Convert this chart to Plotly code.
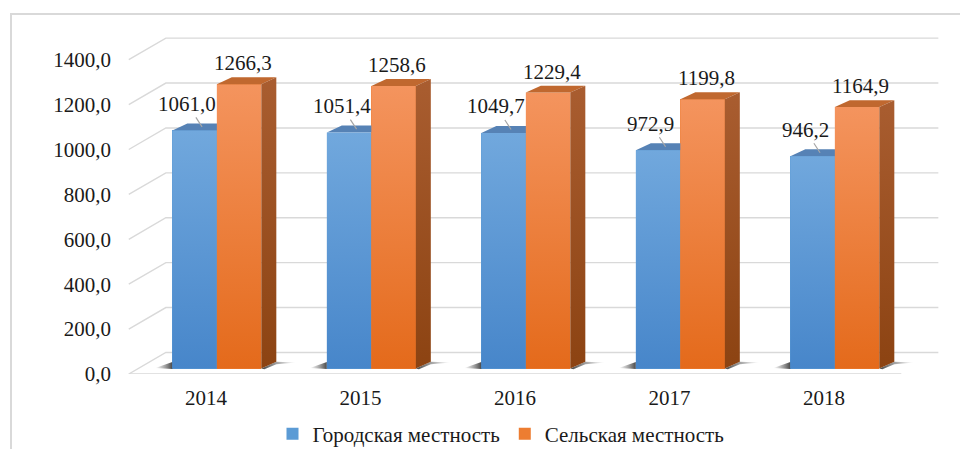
import plotly.graph_objects as go

# ---------------- data ----------------
years = ["2014", "2015", "2016", "2017", "2018"]
urban = [1061.0, 1051.4, 1049.7, 972.9, 946.2]
rural = [1266.3, 1258.6, 1229.4, 1199.8, 1164.9]
y_ticks = [0, 200, 400, 600, 800, 1000, 1200, 1400]
y_tick_text = ["0,0", "200,0", "400,0", "600,0", "800,0", "1000,0", "1200,0", "1400,0"]
series_names = ["Городская местность", "Сельская местность"]


def fmt(v):
    return f"{v:.1f}".replace(".", ",")


# ---------------- geometry / style ----------------
OFF = 8                                    # default page body margin
W, H = 968 - OFF, 449 - OFF               # figure size
# plot area given in screen px, converted to figure px
PL, PR, PT, PB = 128 - OFF, 950 - OFF, 28 - OFF, 374 - OFF
PX_PER_CAT = 154.5
X0 = -0.505
X1 = X0 + (PR - PL) / PX_PER_CAT
PX_PER_VAL = 0.2245
Y1 = (PB - PT) / PX_PER_VAL
DX, DY = 0.24, 96          # full floor depth offset (x units, value units)
FB = 0.25                  # depth fraction of bar front plane
BASE = FB * DY
SHIFT = 0.07
BW = 0.288
BDX, BDY = 0.097, 31       # bar depth
FONT = '"Liberation Serif", "Times New Roman", serif'
FS = 21
TXT = "#1a1a1a"
GRID = "#D9D9D9"

BLUE = "#5B9BD5"
ORANGE = "#ED7D31"


def px2paper_x(px):
    return (px - OFF - PL) / (PR - PL)


def px2paper_y(py):
    return (PB - (py - OFF)) / (PB - PT)


n = len(years)
fig = go.Figure()

# base bars (front faces, legend)
fig.add_trace(go.Bar(
    x=[i + SHIFT - BW / 2 for i in range(n)], y=urban, base=[BASE] * n, width=BW,
    name=series_names[0], marker=dict(color=BLUE, line=dict(width=0)),
    hoverinfo="skip"))
fig.add_trace(go.Bar(
    x=[i + SHIFT + BW / 2 for i in range(n)], y=rural, base=[BASE] * n, width=BW,
    name=series_names[1], marker=dict(color=ORANGE, line=dict(width=0)),
    hoverinfo="skip"))


def poly(xs, ys, **kw):
    fig.add_trace(go.Scatter(
        x=xs + [xs[0]], y=ys + [ys[0]], mode="lines", fill="toself",
        line=dict(width=0, color="rgba(0,0,0,0)"), showlegend=False,
        hoverinfo="skip", **kw))


for i in range(n):
    c = i + SHIFT
    xl, xr = c - BW, c + BW
    vb, vo = urban[i], rural[i]
    # shadows on the floor
    poly([xl, xl, xl - 0.11], [BASE + 30, BASE - 2, BASE + 3],
         fillgradient=dict(type="horizontal",
                           colorscale=[[0, "rgba(90,90,90,0)"], [1, "rgba(40,40,40,0.85)"]]))
    poly([xr, xr + BDX, xr + BDX + 0.13, xr + BDX, xr + 0.02],
         [BASE, BASE + BDY, BASE + BDY - 4, BASE + BDY - 12, BASE - 3],
         fillgradient=dict(type="horizontal",
                           colorscale=[[0, "rgba(35,35,35,0.85)"], [1, "rgba(90,90,90,0)"]]))
    # blue top face
    poly([xl, c, c + BDX, xl + BDX],
         [BASE + vb, BASE + vb, BASE + vb + BDY, BASE + vb + BDY],
         fillcolor="#5682B5")
    # blue front face gradient
    poly([xl, c, c, xl], [BASE, BASE, BASE + vb, BASE + vb],
         fillgradient=dict(type="vertical", colorscale=[[0, "#4786CA"], [1, "#71A8DD"]]))
    # orange front face gradient
    poly([c, xr, xr, c], [BASE, BASE, BASE + vo, BASE + vo],
         fillgradient=dict(type="vertical", colorscale=[[0, "#E46A1B"], [1, "#F4945E"]]))
    # orange top face
    poly([c, xr, xr + BDX, c + BDX],
         [BASE + vo, BASE + vo, BASE + vo + BDY, BASE + vo + BDY],
         fillcolor="#C0682F")
    # orange side face
    poly([xr, xr + BDX, xr + BDX, xr],
         [BASE, BASE + BDY, BASE + vo + BDY, BASE + vo],
         fillgradient=dict(type="vertical", colorscale=[[0, "#8C4312"], [1, "#A95D30"]]))

# gridlines (left wall diagonal + back wall) and floor front edge, as shapes below traces
fl, fr = -0.5, n - 0.5
shapes = []
for t in y_ticks:
    shapes.append(dict(type="path", xref="x", yref="y", layer="below",
                       path=f"M {fl},{t} L {fl + DX},{t + DY} L {fr + DX},{t + DY}",
                       line=dict(color=GRID, width=1.4)))
shapes.append(dict(type="line", xref="x", yref="y", layer="below",
                   x0=fl, y0=0, x1=fr, y1=0, line=dict(color=GRID, width=1.4)))
# outer chart border
shapes.append(dict(type="rect", xref="paper", yref="paper", layer="below",
                   x0=px2paper_x(11), y0=px2paper_y(470), x1=px2paper_x(990), y1=px2paper_y(14),
                   line=dict(color=GRID, width=2)))

# data labels
ann = []
for i in range(n):
    c = i + SHIFT
    ann.append(dict(x=c + BW / 2 + BDX / 4, y=BASE + rural[i] + BDY, xref="x", yref="y",
                    text=fmt(rural[i]), showarrow=False, yanchor="bottom", yshift=0,
                    font=dict(family=FONT, size=FS, color=TXT)))
    ann.append(dict(x=c - BW / 2 + BDX / 2, y=BASE + urban[i] + BDY / 2, xref="x", yref="y",
                    text=fmt(urban[i]), showarrow=True, arrowhead=0, arrowwidth=1.2,
                    arrowcolor="#A6A6A6", ax=-15, ay=-23,
                    font=dict(family=FONT, size=FS, color=TXT)))

fig.update_layout(
    width=W, height=H,
    margin=dict(l=PL, r=W - PR, t=PT, b=H - PB, pad=0, autoexpand=False),
    paper_bgcolor="white", plot_bgcolor="rgba(0,0,0,0)",
    barmode="overlay", bargap=0,
    font=dict(family=FONT, size=FS, color=TXT),
    showlegend=True,
    legend=dict(orientation="h", x=px2paper_x(501), xanchor="center", y=px2paper_y(434),
                yanchor="middle", font=dict(family=FONT, size=FS, color=TXT),
                traceorder="normal", itemclick=False, itemdoubleclick=False),
    xaxis=dict(range=[X0, X1], tickvals=list(range(n)), ticktext=years,
               showgrid=False, zeroline=False, showline=False, ticks="",
               ticklabelstandoff=9, fixedrange=True, automargin=False,
               tickfont=dict(family=FONT, size=FS, color=TXT)),
    yaxis=dict(range=[0, Y1], tickvals=y_ticks, ticktext=y_tick_text,
               showgrid=False, zeroline=False, showline=False, ticks="",
               ticklabelstandoff=16, fixedrange=True, automargin=False,
               tickfont=dict(family=FONT, size=FS, color=TXT)),
    shapes=shapes, annotations=ann,
)

fig.write_html("out.html")
